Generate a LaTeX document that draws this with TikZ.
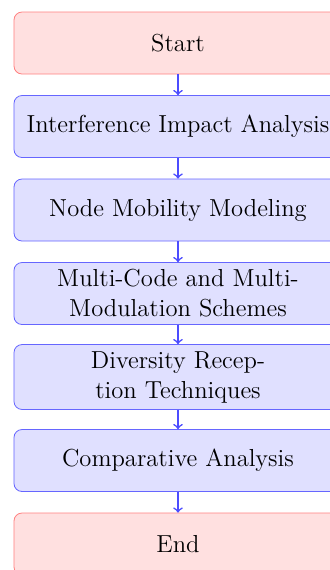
\documentclass[tikz,border=0pt]{standalone}
\usepackage{tikz}

\tikzset{
  startstop/.style={rectangle, rounded corners, minimum width=164pt, minimum height=31pt,
    align=center, font=\fontsize{12.3}{15}\selectfont, draw=red!50, fill=red!12},
  process/.style={rectangle, rounded corners, minimum width=164pt, minimum height=31pt,
    align=center, font=\fontsize{12.3}{15}\selectfont, draw=blue!60, fill=blue!12},
  arrow/.style={thick, ->, blue!70}
}

\begin{document}
\begin{tikzpicture}
\useasboundingbox (-89pt,21.5pt) rectangle (75.5pt,-263.5pt);
\node[startstop] (start) at (0,0) {Start};
\node[process] (interf) at (0,-41.75pt) {Interference Impact Analysis};
\node[process] (mobil) at (0,-83.5pt) {Node Mobility Modeling};
\node[process] (multi) at (0,-125.25pt) {Multi-Code and Multi-\\Modulation Schemes};
\node[process] (divers) at (0,-167pt) {Diversity Recep-\\tion Techniques};
\node[process] (compar) at (0,-208.75pt) {Comparative Analysis};
\node[startstop] (stop) at (0,-250.5pt) {End};

\draw[arrow] (start) -- (interf);
\draw[arrow] (interf) -- (mobil);
\draw[arrow] (mobil) -- (multi);
\draw[arrow] (multi) -- (divers);
\draw[arrow] (divers) -- (compar);
\draw[arrow] (compar) -- (stop);
\end{tikzpicture}
\end{document}
